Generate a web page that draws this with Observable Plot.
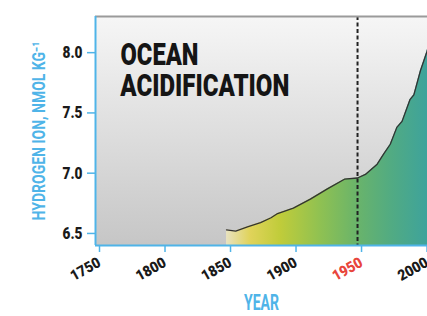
<!DOCTYPE html>
<html>
<head>
<meta charset="utf-8">
<script src="https://cdn.jsdelivr.net/npm/d3@7"></script>
<script src="https://cdn.jsdelivr.net/npm/@observablehq/plot@0.6"></script>
<style>
  html, body { margin: 0; padding: 0; background: #fff; overflow: hidden; }
  #chart svg { display: block; }
</style>
</head>
<body>
<div id="chart"></div>
<script>
// ---- data ----
const years  = [1850, 1857, 1866, 1876, 1884, 1889, 1901, 1914, 1927, 1940, 1950, 1956, 1965, 1970, 1975, 1980, 1984, 1990, 1993, 1998, 2003, 2008];
const values = [6.53, 6.52, 6.555, 6.59, 6.63, 6.665, 6.71, 6.785, 6.87, 6.95, 6.96, 6.99, 7.075, 7.16, 7.24, 7.38, 7.43, 7.61, 7.65, 7.85, 8.01, 8.2];
const xTicks = [1750, 1800, 1850, 1900, 1950, 2000];
const yTicks = [6.5, 7.0, 7.5, 8.0];
const markerYear = [1950];
const titleLines = ["OCEAN", "ACIDIFICATION"];
const xLabel = "YEAR";
const yLabel = "HYDROGEN ION, NMOL KG⁻¹";

const data = years.map((y, i) => ({year: y, value: values[i]}));

const blue = "#4fb4e8";
const red = "#e8453c";
const ink = "#1a1a1a";
const font = "Roboto, 'DejaVu Sans', sans-serif";

const plot = Plot.plot({
  width: 427,
  height: 316,
  marginLeft: 95,
  marginRight: 0,
  marginTop: 16,
  marginBottom: 71,
  style: {fontFamily: font, fontWeight: "bold", background: "#fff", overflow: "hidden"},
  x: {domain: [1750, 2003.4]},
  y: {domain: [6.4, 8.3]},
  marks: [
    Plot.frame({fill: "url(#bgGrad)", stroke: "none"}),
    Plot.areaY(data, {x: "year", y1: () => 6.4, y2: "value", fill: "url(#areaGrad)", clip: true}),
    Plot.line(data, {x: "year", y: "value", stroke: "#333", strokeWidth: 1.3, clip: true}),
    Plot.ruleX(markerYear, {stroke: "#222", strokeWidth: 2, strokeDasharray: "4,2.5"}),
    Plot.ruleY([8.3], {stroke: "#9a9a9a", strokeWidth: 2}),
    Plot.ruleY([6.4], {stroke: blue, strokeWidth: 2}),
    Plot.ruleX([1750], {stroke: blue, strokeWidth: 2}),
    Plot.axisY({ticks: yTicks, tickFormat: d3.format(".1f"), tickSize: 8, tickPadding: 5, stroke: blue, strokeWidth: 1.5, fill: ink, fontSize: 17, fontWeight: 900, label: null, className: "yax"}),
    Plot.axisX({ticks: xTicks, tickFormat: d => String(d), tickSize: 7, tickPadding: 9, tickRotate: -29, stroke: blue, strokeWidth: 1.5, fill: ink, fontSize: 15, fontWeight: 900, label: null, dx: 4, className: "xax"}),
    Plot.text([titleLines[0]], {frameAnchor: "top-left", text: d => d, dx: 25, dy: 38.5, fontSize: 31, fontWeight: 900, fill: "#151515", textAnchor: "start", lineAnchor: "middle", className: "title1"}),
    Plot.text([titleLines[1]], {frameAnchor: "top-left", text: d => d, dx: 25, dy: 70, fontSize: 31, fontWeight: 900, fill: "#151515", textAnchor: "start", lineAnchor: "middle", className: "title2"}),
    Plot.text([xLabel], {frameAnchor: "bottom", text: d => d, dy: 57.5, fontSize: 22, lineAnchor: "middle", fill: blue, className: "xlab"}),
    Plot.text([yLabel], {frameAnchor: "left", text: d => d, dx: -56, rotate: -90, fontSize: 18, lineAnchor: "middle", textAnchor: "middle", fill: blue, className: "ylab"})
  ]
});

const svg = d3.select(plot);
const x = plot.scale("x");
const defs = svg.insert("defs", ":first-child");
const bg = defs.append("linearGradient").attr("id", "bgGrad").attr("x1", 0).attr("y1", 0).attr("x2", 0).attr("y2", 1);
bg.append("stop").attr("offset", "0%").attr("stop-color", "#f6f6f6");
bg.append("stop").attr("offset", "100%").attr("stop-color", "#c6c6c6");

const ag = defs.append("linearGradient").attr("id", "areaGrad").attr("gradientUnits", "userSpaceOnUse")
  .attr("x1", x.apply(1850)).attr("x2", x.apply(2003)).attr("y1", 0).attr("y2", 0);
[["0%", "#e8e2c0"], ["12%", "#e0d35a"], ["27%", "#c0cc3a"], ["47%", "#8fc152"], ["65%", "#6ab46a"], ["82%", "#52ab82"], ["100%", "#3ea39b"]]
  .forEach(([o, c]) => ag.append("stop").attr("offset", o).attr("stop-color", c));

// colour the 1950 tick label red
svg.selectAll(".xax text").each(function() {
  if (this.textContent === "1950") d3.select(this).attr("fill", red);
});

document.getElementById("chart").appendChild(plot);

// condense text horizontally (the reference uses a condensed face), keeping its anchor point
function condense(selector, opts) {
  svg.selectAll(selector).each(function() {
    const el = this;
    const b0 = el.getBBox();
    const w = opts.width != null ? opts.width : b0.width * opts.factor;
    el.setAttribute("textLength", w);
    el.setAttribute("lengthAdjust", "spacingAndGlyphs");
    const b1 = el.getBBox();
    let shift;
    if (opts.anchor === "start") shift = b0.x - b1.x;
    else if (opts.anchor === "end") shift = (b0.x + b0.width) - (b1.x + b1.width);
    else shift = (b0.x + b0.width / 2) - (b1.x + b1.width / 2);
    const cx = +(el.getAttribute("x") || 0);
    el.setAttribute("x", cx + shift);
  });
}
condense(".title1 text", {width: 78, anchor: "start"});
condense(".title2 text", {width: 169, anchor: "start"});
condense(".xlab text", {width: 35, anchor: "middle"});
condense(".yax text", {factor: 0.8, anchor: "end"});
condense(".xax text", {factor: 0.92, anchor: "end"});

// rotated axis title: squeeze along its own baseline with a local scale
svg.selectAll(".ylab text").each(function() {
  const b = this.getBBox();
  const k = 179 / b.width;
  const t = this.getAttribute("transform") || "";
  this.setAttribute("transform", `${t} scale(${k},1)`);
});
</script>
</body>
</html>
